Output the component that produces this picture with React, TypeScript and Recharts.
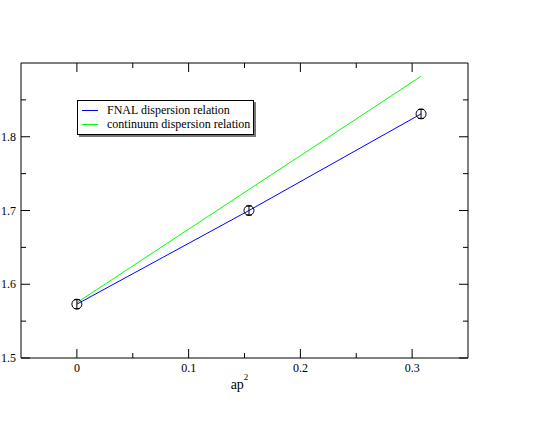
import { ComposedChart, Line, Scatter, XAxis, YAxis, ErrorBar, Legend } from 'recharts';

// ap^2 values of the measured points and their energies
const apSquared = [0, 0.154, 0.308];
const energy = [1.573, 1.7, 1.831];
const energyErr = [0.006, 0.006, 0.006];

// dispersion relation curves
const fnalX = [0, 0.154, 0.308];
const fnalY = [1.573, 1.7, 1.831];
const contX = [0, 0.308];
const contY = [1.575, 1.882];

const xTicks = [0, 0.05, 0.1, 0.15, 0.2, 0.25, 0.3];
const yTicks = [1.5, 1.55, 1.6, 1.65, 1.7, 1.75, 1.8, 1.85];

const seriesNames = ['FNAL dispersion relation', 'continuum dispersion relation'];
const seriesColors = ['#0000ff', '#00ff00'];

const points = apSquared.map((x, i) => ({ x, y: energy[i], err: energyErr[i] }));
const fnal = fnalX.map((x, i) => ({ x, y: fnalY[i] }));
const cont = contX.map((x, i) => ({ x, y: contY[i] }));

const FONT = '"Liberation Serif", "Times New Roman", serif';
const MAJOR = 9;
const MINOR = 5;

const isMajor = (v: number) => Math.abs(v * 10 - Math.round(v * 10)) < 1e-6;
const fmt = (v: number) => String(Math.round(v * 10) / 10);

const BottomTick = ({ x, y, payload }: any) => {
  const major = isMajor(payload.value);
  return (
    <g>
      <line x1={x} x2={x} y1={y} y2={y - (major ? MAJOR : MINOR)} stroke="#000" />
      {major && (
        <text x={x} y={y + 14} textAnchor="middle" style={{ fontFamily: FONT, fontSize: 12 }} fill="#000">
          {fmt(payload.value)}
        </text>
      )}
    </g>
  );
};

const TopTick = ({ x, y, payload }: any) => {
  const major = isMajor(payload.value);
  return <line x1={x} x2={x} y1={y} y2={y + (major ? MAJOR : MINOR)} stroke="#000" />;
};

const LeftTick = ({ x, y, payload }: any) => {
  const major = isMajor(payload.value);
  return (
    <g>
      <line x1={x} x2={x + (major ? MAJOR : MINOR)} y1={y} y2={y} stroke="#000" />
      {major && (
        <text x={x - 5} y={y + 4} textAnchor="end" style={{ fontFamily: FONT, fontSize: 12 }} fill="#000">
          {fmt(payload.value)}
        </text>
      )}
    </g>
  );
};

const RightTick = ({ x, y, payload }: any) => {
  const major = isMajor(payload.value);
  return <line x1={x} x2={x - (major ? MAJOR : MINOR)} y1={y} y2={y} stroke="#000" />;
};

const XLabel = ({ viewBox }: any) => {
  const cx = viewBox.x + viewBox.width / 2;
  return (
    <text x={cx - 5} y={viewBox.y + 31} textAnchor="middle" style={{ fontFamily: FONT, fontSize: 14 }} fill="#000">
      ap
      <tspan dy={-9} style={{ fontSize: 9 }}>2</tspan>
    </text>
  );
};

const Circle = ({ cx, cy }: any) => (
  <circle cx={cx} cy={cy} r={5} fill="none" stroke="#000" strokeWidth={1} />
);

const LegendBox = () => (
  <div
    style={{
      border: '1px solid #000',
      boxShadow: '2px 2px 0 #777',
      background: '#fff',
      width: 175,
      padding: '2px 0 3px 0',
      fontFamily: FONT,
      fontSize: 12,
      lineHeight: '14px',
    }}
  >
    {seriesNames.map((name, i) => (
      <div key={name} style={{ display: 'flex', alignItems: 'center' }}>
        <span style={{ display: 'inline-block', width: 16, height: 1, background: seriesColors[i], margin: '0 9px 0 4px' }} />
        <span>{name}</span>
      </div>
    ))}
  </div>
);

export default function App() {
  return (
    <div style={{ position: 'absolute', left: 0, top: 0, width: 550, height: 425, background: '#fff' }}>
      <ComposedChart width={550} height={425} margin={{ top: 62, right: 81, bottom: 66, left: 20 }}>
        <XAxis
          xAxisId="b"
          type="number"
          dataKey="x"
          domain={[-0.05, 0.35]}
          ticks={xTicks}
          height={1}
          tickSize={0}
          tickMargin={0}
          tick={<BottomTick />}
          tickLine={false}
          axisLine={{ stroke: '#000' }}
          interval={0}
          allowDataOverflow
          label={{ content: <XLabel /> }}
        />
        <XAxis
          xAxisId="t"
          orientation="top"
          type="number"
          dataKey="x"
          domain={[-0.05, 0.35]}
          ticks={xTicks}
          height={1}
          tickSize={0}
          tickMargin={0}
          tick={<TopTick />}
          tickLine={false}
          axisLine={{ stroke: '#000' }}
          interval={0}
          allowDataOverflow
        />
        <YAxis
          yAxisId="l"
          type="number"
          dataKey="y"
          domain={[1.5, 1.9]}
          ticks={yTicks}
          width={1}
          tickSize={0}
          tickMargin={0}
          tick={<LeftTick />}
          tickLine={false}
          axisLine={{ stroke: '#000' }}
          interval={0}
          allowDataOverflow
        />
        <YAxis
          yAxisId="r"
          orientation="right"
          type="number"
          dataKey="y"
          domain={[1.5, 1.9]}
          ticks={yTicks}
          width={1}
          tickSize={0}
          tickMargin={0}
          tick={<RightTick />}
          tickLine={false}
          axisLine={{ stroke: '#000' }}
          interval={0}
          allowDataOverflow
        />
        <Line
          xAxisId="b"
          yAxisId="l"
          data={fnal}
          dataKey="y"
          name={seriesNames[0]}
          type="linear"
          stroke={seriesColors[0]}
          strokeWidth={1}
          dot={false}
          activeDot={false}
          isAnimationActive={false}
        />
        <Line
          xAxisId="b"
          yAxisId="l"
          data={cont}
          dataKey="y"
          name={seriesNames[1]}
          type="linear"
          stroke={seriesColors[1]}
          strokeWidth={1}
          dot={false}
          activeDot={false}
          isAnimationActive={false}
        />
        <Scatter
          xAxisId="b"
          yAxisId="l"
          data={points}
          dataKey="y"
          shape={<Circle />}
          legendType="none"
          isAnimationActive={false}
        >
          <ErrorBar dataKey="err" direction="y" width={3} stroke="#000" strokeWidth={1} isAnimationActive={false} />
        </Scatter>
        <Legend
          layout="vertical"
          align="center"
          verticalAlign="middle"
          content={<LegendBox />}
          wrapperStyle={{ left: 77, top: 100, width: 180 }}
        />
      </ComposedChart>
    </div>
  );
}
